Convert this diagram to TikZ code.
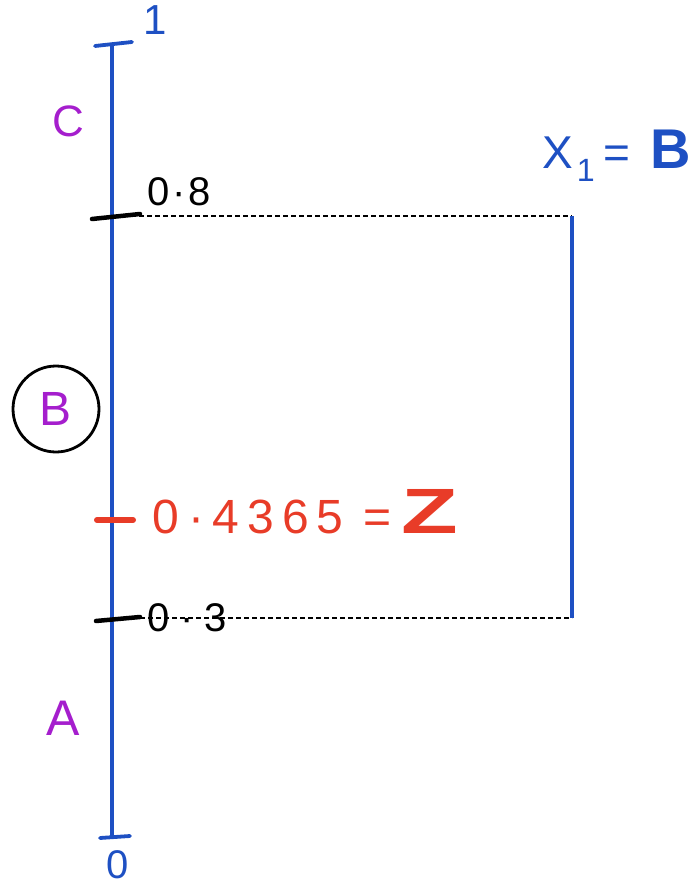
\documentclass[tikz,border=0pt]{standalone}
\usepackage{fontspec}
\setmainfont{Liberation Sans}
\definecolor{penblue}{RGB}{30,80,195}
\definecolor{penpurple}{RGB}{165,30,205}
\definecolor{penred}{RGB}{232,60,40}
\newcommand{\fs}[1]{\fontsize{#1}{#1}\selectfont}
\begin{document}
\begin{tikzpicture}[x=1pt,y=-1pt,
  axis/.style={draw=penblue,line width=3.4pt},
  tickmark/.style={line width=4.5pt,line cap=round},
  guide/.style={draw=black,dash pattern=on 5pt off 3pt,line width=2.6pt},
  lbl/.style={inner sep=0pt},
  region/.style={lbl,text=penpurple}]
\useasboundingbox (0,0) rectangle (698,888);
% axis
\coordinate (top) at (112,44);
\coordinate (bot) at (112,838);
\draw[axis] (top) -- (bot);
\coordinate (t1a) at (95,46); \coordinate (t1b) at (132,42);
\draw[penblue,tickmark,line width=3.8pt] (t1a) -- (t1b);
\coordinate (t0a) at (100,838); \coordinate (t0b) at (130,836);
\draw[penblue,tickmark,line width=3.8pt] (t0a) -- (t0b);
\node[lbl,text=penblue,font=\fs{42},anchor=base] (one) at (155,35) {1};
\node[lbl,text=penblue,font=\fs{40},anchor=base] (zero) at (118,878) {0};
% 0.8
\coordinate (e8a) at (92,219); \coordinate (e8b) at (140,214);
\draw[black,tickmark] (e8a) -- (e8b);
\node[lbl,text=black,font=\fs{40},anchor=base west] (l8) at (147,205) {0\hspace{3pt}·\hspace{3pt}8};
\coordinate (d8a) at (115,216); \coordinate (d8b) at (572,216);
\draw[guide] (d8a) -- (d8b);
% 0.3
\coordinate (e3a) at (96,621); \coordinate (e3b) at (140,617);
\draw[black,tickmark] (e3a) -- (e3b);
\node[lbl,text=black,font=\fs{40},anchor=base west] (l3) at (147,631) {0\hspace{11pt}·\hspace{11pt}3};
\coordinate (d3a) at (140,618); \coordinate (d3b) at (572,618);
\draw[guide] (d3a) -- (d3b);
% right vertical
\draw[axis] (d8b) -- (d3b);
% Z
\coordinate (zta) at (97,520); \coordinate (ztb) at (133,520);
\draw[penred,tickmark,line width=6pt] (zta) -- (ztb);
\node[lbl,text=penred,font=\fs{48},anchor=base west] (zval) at (152,533)
  {0\hspace{10pt}·\hspace{8pt}4\hspace{8pt}3\hspace{8pt}6\hspace{8pt}5\hspace{20pt}=\hspace{10pt}\textbf{\fs{64}\scalebox{1.45}[1]{Z}}};
% region labels
\node[region,font=\fs{44}] (C) at (68,121) {C};
\node[region,font=\fs{48}] (B) at (56,409) {B};
\draw[black,line width=2.8pt] (B) circle (43);
\node[region,font=\fs{50}] (A) at (63,718) {A};
% X1 = B
\node[lbl,text=penblue,font=\fs{46},anchor=base west] (X) at (542,168)
  {X\hspace{4pt}\textsubscript{1}\hspace{8pt}=\hspace{20pt}\textbf{\fs{56}B}};
\end{tikzpicture}
\end{document}
